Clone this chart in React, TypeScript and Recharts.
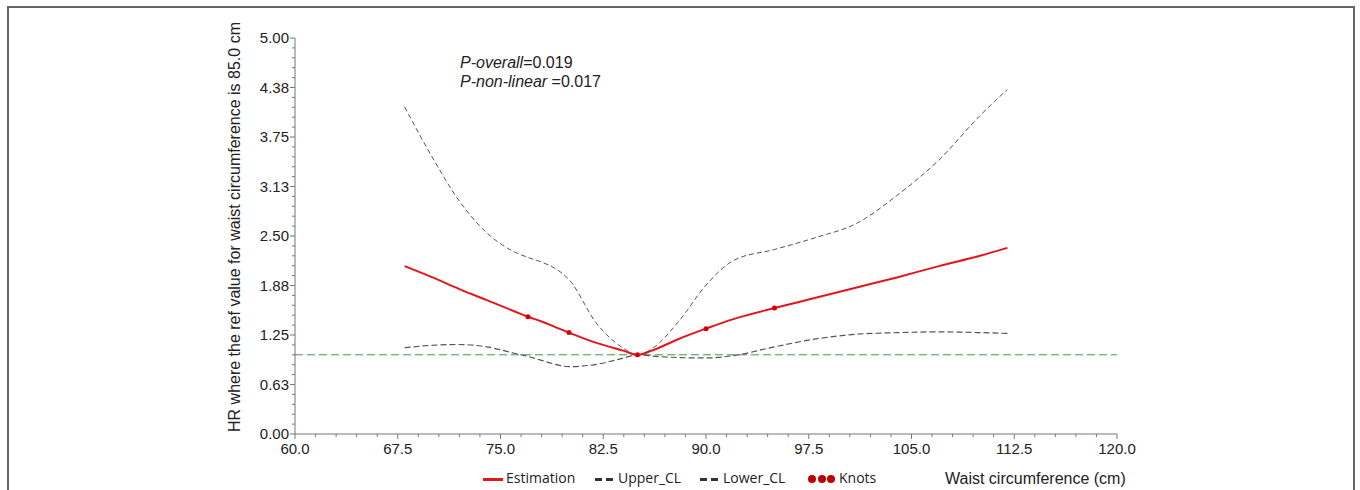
import React from 'react';
import { LineChart, Line, XAxis, YAxis, ReferenceLine } from 'recharts';

const waist = [68, 70, 72, 74, 76, 77, 78, 79, 80, 82, 84, 85, 86, 88, 90, 92, 95, 98, 101, 104, 107, 110, 112];
const estimation = [2.12, 1.98, 1.83, 1.69, 1.55, 1.48, 1.42, 1.35, 1.28, 1.15, 1.05, 1.0, 1.05, 1.2, 1.33, 1.45, 1.59, 1.72, 1.85, 1.98, 2.12, 2.25, 2.35];
const upperCL = [4.13, 3.5, 2.94, 2.54, 2.3, 2.23, 2.17, 2.09, 1.95, 1.4, 1.08, 1.0, 1.07, 1.42, 1.88, 2.19, 2.33, 2.48, 2.66, 3.02, 3.46, 4.02, 4.35];
const lowerCL = [1.09, 1.12, 1.13, 1.1, 1.02, 0.98, 0.93, 0.88, 0.85, 0.88, 0.96, 1.0, 0.985, 0.965, 0.96, 0.99, 1.1, 1.2, 1.26, 1.28, 1.29, 1.28, 1.27];

const knotWaist = [77, 80, 85, 90, 95];
const knotHR = [1.48, 1.28, 1.0, 1.33, 1.59];

const xMajor = [60, 67.5, 75, 82.5, 90, 97.5, 105, 112.5, 120];
const yMajor = [0, 0.625, 1.25, 1.875, 2.5, 3.125, 3.75, 4.375, 5];

const rows = waist.map((w, i) => ({ waist: w, est: estimation[i], upper: upperCL[i], lower: lowerCL[i] }));
const knotRows = knotWaist.map((w, i) => ({ waist: w, knot: knotHR[i] }));

// 4 minor ticks between each pair of labelled ticks
function withMinor(major: number[]) {
  const out: number[] = [];
  major.forEach((v, i) => {
    out.push(v);
    if (i < major.length - 1) {
      const step = (major[i + 1] - v) / 5;
      for (let k = 1; k < 5; k++) out.push(v + step * k);
    }
  });
  return out;
}

const AXIS_FONT = '"Liberation Sans", Arial, sans-serif';
const LEGEND_FONT = '"Open Sans", "Noto Sans", sans-serif';
const isMajor = (list: number[], v: number) => list.some((m) => Math.abs(m - v) < 1e-6);

const XTick = (props: any) => {
  const { x, y, payload } = props;
  const major = isMajor(xMajor, payload.value);
  return (
    <g>
      <line x1={x} y1={y} x2={x} y2={y + (major ? 5 : 3)} stroke="#777" />
      {major && (
        <text x={x} y={y + 20} textAnchor="middle" fontSize={15} fill="#222" fontFamily={AXIS_FONT}>
          {payload.value.toFixed(1)}
        </text>
      )}
    </g>
  );
};

const YTick = (props: any) => {
  const { x, y, payload } = props;
  const major = isMajor(yMajor, payload.value);
  return (
    <g>
      <line x1={x} y1={y} x2={x - (major ? 5 : 3)} y2={y} stroke="#777" />
      {major && (
        <text x={x - 6} y={y + 5} textAnchor="end" fontSize={15} fill="#222" fontFamily={AXIS_FONT}>
          {payload.value.toFixed(2)}
        </text>
      )}
    </g>
  );
};

const YTitle = (props: any) => {
  const vb = props.viewBox;
  const x = vb.x + 5;
  const y = vb.y + vb.height / 2 - 9;
  return (
    <text x={x} y={y} transform={`rotate(-90, ${x}, ${y})`} textAnchor="middle" fontSize={16} fill="#222" fontFamily={AXIS_FONT}>
      HR where the ref value for waist circumference is 85.0 cm
    </text>
  );
};

const dash = (left: number) => (
  <>
    <span style={{ position: 'absolute', left, top: 478, width: 7, height: 2.5, background: '#333' }} />
    <span style={{ position: 'absolute', left: left + 11, top: 478, width: 7, height: 2.5, background: '#333' }} />
  </>
);

const legendText = (left: number, text: string) => (
  <span style={{ position: 'absolute', left, top: 468, fontFamily: LEGEND_FONT, fontSize: 14, lineHeight: '20px', color: '#222', whiteSpace: 'nowrap' }}>
    {text}
  </span>
);

export default function App() {
  return (
    <div style={{ position: 'absolute', left: 0, top: 0, width: 1360, height: 490, overflow: 'hidden', background: '#fff' }}>
      <div style={{ position: 'absolute', left: 7, top: 6, width: 1348, height: 500, border: '2px solid #666', boxSizing: 'border-box' }} />
      <LineChart width={1360} height={490} data={rows} margin={{ top: 38, right: 243, bottom: 26, left: 235 }}>
        <XAxis
          dataKey="waist"
          type="number"
          domain={[60, 120]}
          ticks={withMinor(xMajor)}
          interval={0}
          tickSize={0}
          tickMargin={0}
          tick={<XTick />}
          height={30}
          stroke="#777"
        />
        <YAxis
          type="number"
          domain={[0, 5]}
          ticks={withMinor(yMajor)}
          interval={0}
          tickSize={0}
          tickMargin={0}
          tick={<YTick />}
          width={60}
          stroke="#777"
          label={(p: any) => <YTitle {...p} />}
        />
        <ReferenceLine y={1} stroke="#4a8f4a" strokeDasharray="8 4" strokeWidth={1} />
        <Line type="monotone" dataKey="upper" stroke="#555" strokeWidth={1} strokeDasharray="5 3" dot={false} activeDot={false} isAnimationActive={false} />
        <Line type="monotone" dataKey="lower" stroke="#555" strokeWidth={1.2} strokeDasharray="6 3" dot={false} activeDot={false} isAnimationActive={false} />
        <Line type="monotone" dataKey="est" stroke="#e3161b" strokeWidth={2} dot={false} activeDot={false} isAnimationActive={false} />
        <Line
          data={knotRows}
          dataKey="knot"
          stroke="none"
          dot={{ r: 2.5, fill: '#d40000', stroke: 'none' }}
          activeDot={false}
          isAnimationActive={false}
        />
      </LineChart>

      <div style={{ position: 'absolute', left: 460, top: 53, fontFamily: AXIS_FONT, fontSize: 16, lineHeight: '19px', color: '#222', whiteSpace: 'nowrap' }}>
        <div><i>P-overall</i>=0.019</div>
        <div><i>P-non-linear</i> =0.017</div>
      </div>

      <span style={{ position: 'absolute', left: 483, top: 478, width: 20, height: 2.5, background: '#e3161b' }} />
      {legendText(506, 'Estimation')}
      {dash(595)}
      {legendText(618, 'Upper_CL')}
      {dash(700)}
      {legendText(723, 'Lower_CL')}
      {[812, 821.5, 831].map((cx) => (
        <span key={cx} style={{ position: 'absolute', left: cx - 4, top: 475, width: 8, height: 8, borderRadius: '50%', background: '#c00000' }} />
      ))}
      {legendText(839, 'Knots')}
      <span style={{ position: 'absolute', left: 945, top: 469, fontFamily: AXIS_FONT, fontSize: 16, lineHeight: '19px', color: '#222', whiteSpace: 'nowrap' }}>
        Waist circumference (cm)
      </span>
    </div>
  );
}
